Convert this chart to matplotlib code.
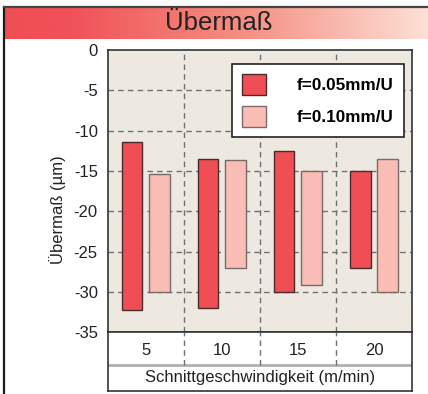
import numpy as np
import matplotlib
matplotlib.use("Agg")
import matplotlib.pyplot as plt
from matplotlib.colors import LinearSegmentedColormap
from matplotlib.patches import Patch
from matplotlib.lines import Line2D

plt.rcParams["font.family"] = ["Liberation Sans", "DejaVu Sans"]
plt.rcParams["axes.unicode_minus"] = False

# Data
speeds = ["5", "10", "15", "20"]
series = ["f=0.05mm/U", "f=0.10mm/U"]
top_005 = [-11.4, -13.5, -12.5, -15.0]
bottom_005 = [-32.2, -32.0, -30.0, -27.0]
top_010 = [-15.4, -13.6, -15.0, -13.5]
bottom_010 = [-30.0, -27.0, -29.1, -30.0]
y_ticks = [0, -5, -10, -15, -20, -25, -30, -35]
title = "Übermaß"
y_label = "Übermaß (µm)"
x_label = "Schnittgeschwindigkeit (m/min)"

W, H = 428, 394
fig = plt.figure(figsize=(W / 100, H / 100), dpi=100)


def box(x0, y0, x1, y1):
    """Pixel box (top-left origin) -> figure fraction rect."""
    return [x0 / W, 1 - y1 / H, (x1 - x0) / W, (y1 - y0) / H]


# Title band with horizontal gradient
tax = fig.add_axes(box(4.5, 7.5, 428, 39))
cmap = LinearSegmentedColormap.from_list(
    "band", [(0.0, "#f04e55"), (0.15, "#f05158"), (0.55, "#f58d80"), (1.0, "#fde0d6")])
grad = np.linspace(0, 1, 512).reshape(1, -1)
tax.imshow(grad, aspect="auto", cmap=cmap, extent=[0, 1, 0, 1])
tax.set_xlim(0, 1)
tax.set_ylim(0, 1)
tax.axis("off")
fig.text(218.5 / W, 1 - 23.5 / H, title, ha="center", va="center",
         fontsize=18.5, color="#222222")

# Frame lines
fig.add_artist(Line2D([4.3 / W, 4.3 / W], [1 - 7 / H, 0], color="#1a1a1a", lw=1.6,
                      transform=fig.transFigure))
fig.add_artist(Line2D([4.3 / W, 1], [1 - 7 / H, 1 - 7 / H], color="#444444", lw=1.6,
                      transform=fig.transFigure))

# Main plot
ax = fig.add_axes(box(107.5, 50, 412, 332.3))
ax.set_facecolor("#ede9e0")
x = np.arange(len(speeds))
off, width = 0.18, 0.27
c1, c2 = "#f04e55", "#f9bdb6"
ax.bar(x - off, np.array(top_005) - np.array(bottom_005), width, bottom=bottom_005,
       color=c1, edgecolor="#4a2a2a", linewidth=1.0, zorder=3)
ax.bar(x + off, np.array(top_010) - np.array(bottom_010), width, bottom=bottom_010,
       color=c2, edgecolor="#7a6a68", linewidth=1.0, zorder=3)
ax.set_xlim(-0.5, len(speeds) - 0.5)
ax.set_ylim(-35, 0)
ax.set_yticks(y_ticks)
ax.set_yticklabels([str(t) for t in y_ticks])
ax.set_xticks([])
ax.tick_params(axis="y", length=0, pad=7, labelsize=12, colors="#222222")
for v in y_ticks[1:-1]:
    ax.axhline(v, color="#707070", lw=1.0, ls=(0, (4, 3)), zorder=1)
for b in x[:-1] + 0.5:
    ax.axvline(b, color="#707070", lw=1.0, ls=(0, (4, 3)), zorder=1)
for s in ax.spines.values():
    s.set_color("#333333")
    s.set_linewidth(1.2)

handles = [Patch(facecolor=c1, edgecolor="#4a2a2a"), Patch(facecolor=c2, edgecolor="#7a6a68")]
leg = ax.legend(handles, series, loc="upper right", bbox_to_anchor=(404 / W, 1 - 64 / H),
                bbox_transform=fig.transFigure, borderaxespad=0, fancybox=False,
                framealpha=1, edgecolor="#222222", prop={"weight": "bold", "size": 12.3},
                handlelength=1.4, handleheight=1.5, handletextpad=1.8,
                borderpad=0.6, labelspacing=0.65)
leg.get_frame().set_linewidth(1.2)

# Category table under the plot
cax = fig.add_axes(box(107.5, 332.3, 412, 390.7))
cax.set_xlim(-0.5, len(speeds) - 0.5)
cax.set_ylim(0, 1)
cax.set_xticks([])
cax.set_yticks([])
for s in cax.spines.values():
    s.set_color("#333333")
    s.set_linewidth(1.2)
mid = (390.7 - 365) / (390.7 - 332.3)
cax.axhline(mid, color="#b0b0b0", lw=2)
for b in x[:-1] + 0.5:
    cax.plot([b, b], [mid, 1], color="#707070", lw=1.0, ls=(0, (4, 3)))
for xi, lab in zip(x, speeds):
    cax.text(xi, (1 + mid) / 2 - 0.03, lab, ha="center", va="center", fontsize=12,
             color="#222222")
cax.text(1.5, mid / 2, x_label, ha="center", va="center", fontsize=12, color="#222222")

fig.text(58 / W, 1 - 210 / H, y_label, rotation=90, ha="center", va="center",
         fontsize=12, color="#222222")

fig.savefig("out.png", dpi=100)
